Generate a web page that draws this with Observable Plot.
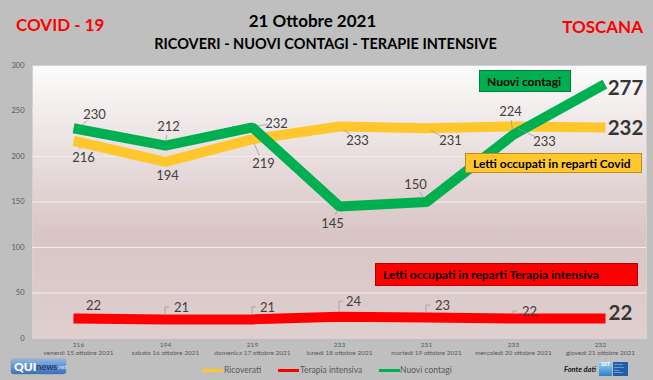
<!DOCTYPE html>
<html>
<head>
<meta charset="utf-8">
<script src="https://cdn.jsdelivr.net/npm/d3@7"></script>
<script src="https://cdn.jsdelivr.net/npm/@observablehq/plot@0.6"></script>
<style>
  body { margin: 0; }
  #wrap { position: relative; width: 653px; height: 380px; background: #bfbfbf; font-family: Lato, "Open Sans", sans-serif; overflow: hidden; }
  #wrap svg { position: absolute; left: 0; top: 0; }
  .t { position: absolute; white-space: nowrap; font-weight: bold; line-height: 1; }
  .box { position: absolute; font-weight: bold; color: #000; font-size: 12px; box-sizing: border-box; border: 1px solid rgba(0,0,0,0.28); display: flex; align-items: center; padding-left: 7px; white-space: nowrap; }
  .leg { position: absolute; font-size: 8.5px; color: #595959; white-space: nowrap; line-height: 1; }
  .sw { position: absolute; height: 3.5px; width: 21px; }
</style>
</head>
<body>
<div id="wrap">
</div>
<script>
// ---- data ----
const days = [
  "venerdì 15 ottobre 2021",
  "sabato 16 ottobre 2021",
  "domenica 17 ottobre 2021",
  "lunedì 18 ottobre 2021",
  "martedì 19 ottobre 2021",
  "mercoledì 20 ottobre 2021",
  "giovedì 21 ottobre 2021"
];
const ricoverati = [216, 194, 219, 233, 231, 233, 232];
const nuoviContagi = [230, 212, 232, 145, 150, 224, 277];
const terapiaIntensiva = [22, 21, 21, 24, 23, 22, 22];
const yTicks = [0, 50, 100, 150, 200, 250, 300];

// label nudges (pixels, from point to label centre)
const greenNudge = [[16,-14],[3,-19],[24,-4],[-7,17],[-11,-17],[-3,-23],[25,2]];
const yellowNudge = [[5,16],[2,14],[11,25],[18,14],[24,13],[31,15],[25,1]];
const redNudge = [[15,-13],[16,-12],[15,-12],[14,-15],[16,-12],[16,-7],[20,-5]];

const colors = { ricoverati: "#FFC72C", contagi: "#00B050", terapia: "#FF0000" };

const rows = days.map((d, i) => ({ day: d, ricov: ricoverati[i], contagi: nuoviContagi[i], ti: terapiaIntensiva[i] }));

function labelMarks(values, nudges) {
  return values.map((v, i) => {
    const isLast = i === values.length - 1;
    return Plot.text([{ day: days[i], v }], {
      x: "day", y: "v", text: d => String(d.v),
      dx: nudges[i][0], dy: nudges[i][1],
      fontSize: isLast ? 20.5 : 13,
      fontWeight: isLast ? "bold" : "normal",
      fill: isLast ? "#363636" : "#404040"
    });
  });
}

const chart = Plot.plot({
  width: 653, height: 380,
  marginLeft: 32, marginRight: 7, marginTop: 65, marginBottom: 42,
  style: { background: "transparent", fontFamily: "Lato, sans-serif" },
  x: { type: "point", domain: days, padding: 0.5 },
  y: { domain: [0, 300] },
  marks: [
    Plot.frame({ fill: "url(#bgGrad)", stroke: "#d2d2d2" }),
    Plot.gridY(yTicks.slice(1, -1), { stroke: "#f3ecec", strokeOpacity: 1, strokeWidth: 1 }),
    Plot.axisY(yTicks, { tickSize: 0, tickPadding: 8, fontSize: 7.5, fill: "#595959", label: null }),
    Plot.axisX({ tickSize: 0, tickPadding: 3, fontSize: 6.5, fill: "#595959", lineHeight: 1.25, label: null,
      tickFormat: d => `${ricoverati[days.indexOf(d)]}\n${d}` }),
    Plot.line(rows, { x: "day", y: "ricov", stroke: colors.ricoverati, strokeWidth: 10, strokeLinecap: "square", strokeLinejoin: "miter" }),
    Plot.line(rows, { x: "day", y: "ti", stroke: colors.terapia, strokeWidth: 10, strokeLinecap: "square", strokeLinejoin: "miter" }),
    Plot.line(rows, { x: "day", y: "contagi", stroke: colors.contagi, strokeWidth: 10, strokeLinecap: "square", strokeLinejoin: "miter" }),
    ...labelMarks(ricoverati, yellowNudge),
    ...labelMarks(nuoviContagi, greenNudge),
    ...labelMarks(terapiaIntensiva, redNudge)
  ]
});

// gradient background for the plot area
const svg = d3.select(chart);
const grad = svg.insert("defs", ":first-child").append("linearGradient")
  .attr("id", "bgGrad").attr("x1", 0).attr("y1", 0).attr("x2", 0).attr("y2", 1);
grad.append("stop").attr("offset", "0%").attr("stop-color", "#fcfbfb");
grad.append("stop").attr("offset", "62%").attr("stop-color", "#d9c5c5");
grad.append("stop").attr("offset", "100%").attr("stop-color", "#dfcfcf");

// leader lines, computed through the chart's scales
const sx = chart.scale("x"), sy = chart.scale("y");
const lg = svg.append("g").attr("fill", "none").attr("stroke", "#9a9a9a").attr("stroke-width", 0.8);
function straightLeaders(values, nudges, skip) {
  values.forEach((v, i) => {
    if (skip.includes(i)) return;
    const px = sx.apply(days[i]), py = sy.apply(v);
    const [dx, dy] = nudges[i];
    const L = Math.hypot(dx, dy);
    const ux = dx / L, uy = dy / L;
    const a = 5.5, b = Math.max(a + 2, L - 9);
    lg.append("line").attr("x1", px + ux * a).attr("y1", py + uy * a)
      .attr("x2", px + ux * b).attr("y2", py + uy * b);
  });
}
straightLeaders(nuoviContagi, greenNudge, [6]);
straightLeaders(ricoverati, yellowNudge, [1, 6]);
terapiaIntensiva.forEach((v, i) => {
  if (i === 0 || i === 6) return;
  const px = sx.apply(days[i]), py = sy.apply(v);
  lg.append("path").attr("d", `M${px},${py - 5}V${py + redNudge[i][1]}H${px + 4}`);
});

const wrap = document.getElementById("wrap");
wrap.appendChild(chart);

// titles, annotation boxes, legend, logos
wrap.insertAdjacentHTML("beforeend", `
  <div class="t" style="left:16px;top:16px;font-size:17px;color:#ff0000;">COVID - 19</div>
  <div class="t" style="left:560px;top:18px;font-size:17px;color:#ff0000;width:83px;text-align:right;">TOSCANA</div>
  <div class="t" style="left:0;width:625px;top:12px;font-size:17px;color:#000;text-align:center;">21 Ottobre 2021</div>
  <div class="t" style="left:0;width:651px;top:37px;font-size:14.5px;color:#000;text-align:center;">RICOVERI - NUOVI CONTAGI - TERAPIE INTENSIVE</div>

  <div class="box" style="left:479px;top:70px;width:92px;height:22px;background:${colors.contagi};">Nuovi contagi</div>
  <div class="box" style="left:465px;top:153px;width:177px;height:20px;background:${colors.ricoverati};">Letti occupati in reparti Covid</div>
  <div class="box" style="left:375px;top:263px;width:263px;height:23px;background:${colors.terapia};">Letti occupati in reparti Terapia intensiva</div>

  <div class="sw" style="left:202px;top:368.5px;background:${colors.ricoverati};"></div>
  <div class="leg" style="left:224px;top:366px;">Ricoverati</div>
  <div class="sw" style="left:278px;top:368.5px;background:${colors.terapia};"></div>
  <div class="leg" style="left:300px;top:366px;">Terapia intensiva</div>
  <div class="sw" style="left:379px;top:368.5px;background:${colors.contagi};"></div>
  <div class="leg" style="left:400px;top:366px;">Nuovi contagi</div>

  <div style="position:absolute;left:11px;top:359px;width:55px;height:15px;border-radius:3px;background:linear-gradient(#8fb4e6,#3b6fb8);box-shadow:0 0 1px #345;display:flex;align-items:center;padding-left:3px;box-sizing:border-box;white-space:nowrap;">
    <span style="font-weight:900;color:#fff;font-size:12px;line-height:1;">QUI</span><span style="color:#1d3f73;font-size:9px;font-weight:bold;line-height:1;">news</span><span style="color:#dde8f8;font-size:6px;font-style:italic;line-height:1;">.net</span>
  </div>
  <div class="t" style="left:564px;top:365.5px;font-size:7.5px;font-style:italic;color:#1a1a1a;">Fonte dati</div>
  <div style="position:absolute;left:599px;top:362px;width:13px;height:14px;background:linear-gradient(#9ed3f5,#2d7fc8);color:#fff;font-size:5px;font-weight:bold;line-height:1;text-align:center;">SST</div>
  <div style="position:absolute;left:613px;top:362px;width:15px;height:14px;background:#1f5fae;color:#cfe0f5;font-size:2.5px;line-height:1.1;padding:2px 1px;box-sizing:border-box;">Servizio<br>Sanitario<br>della<br>Toscana</div>
`);
</script>
</body>
</html>
